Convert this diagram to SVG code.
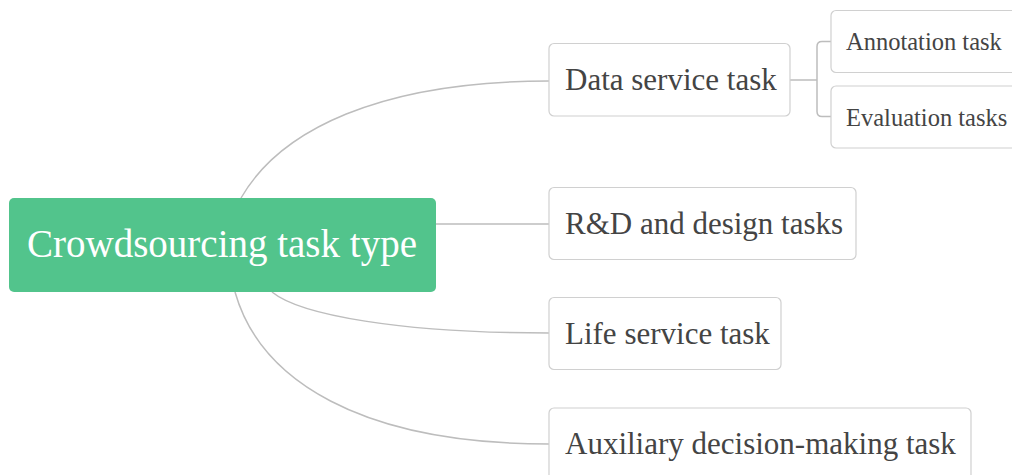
<svg xmlns="http://www.w3.org/2000/svg" width="1012" height="475" viewBox="0 0 1012 475">
  <style>
    .link { fill: none; stroke: #bdbdbd; stroke-width: 1.5; }
    .box { fill: #ffffff; stroke: #d0d0d0; stroke-width: 1.2; }
    .label { font-family: "Liberation Serif", "Times New Roman", serif; fill: #444444; }
    .l1 { font-size: 31px; }
    .l2 { font-size: 24.5px; }
    .root-box { fill: #52c48c; }
    .root-label { font-family: "Liberation Serif", "Times New Roman", serif; font-size: 39px; fill: #ffffff; }
  </style>
  <rect width="1012" height="475" fill="#ffffff"/>

  <!-- connectors -->
  <g id="connectors">
    <path class="link" d="M241,198 C280,130 380,81 549,81"/>
    <path class="link" d="M436,224 L549,224"/>
    <path class="link" d="M272,292 C300,315 400,333 549,333"/>
    <path class="link" d="M235,292 C260,380 360,444 549,444"/>
    <!-- bracket joining the data service branch to its children -->
    <path class="link" d="M790,80 L817,80 M831,41.5 L822,41.5 Q817,41.5 817,46.5 L817,111.5 Q817,116.5 822,116.5 L831,116.5"/>
  </g>

  <g id="root">
    <rect class="root-box" x="9" y="198" width="427" height="94" rx="5"/>
    <text class="root-label" x="27" y="257">Crowdsourcing task type</text>
  </g>

  <g id="data-service">
    <rect class="box" x="549" y="43.5" width="241" height="72.5" rx="5"/>
    <text class="label l1" x="565" y="90">Data service task</text>
  </g>

  <g id="annotation">
    <rect class="box" x="831" y="10.5" width="190" height="62" rx="5"/>
    <text class="label l2" x="846" y="50">Annotation task</text>
  </g>

  <g id="evaluation">
    <rect class="box" x="831" y="86" width="190" height="62" rx="5"/>
    <text class="label l2" x="846" y="126">Evaluation tasks</text>
  </g>

  <g id="rd-design">
    <rect class="box" x="549" y="187.5" width="307" height="72" rx="5"/>
    <text class="label l1" x="565" y="234">R&amp;D and design tasks</text>
  </g>

  <g id="life-service">
    <rect class="box" x="549" y="297.5" width="232" height="72" rx="5"/>
    <text class="label l1" x="565" y="344">Life service task</text>
  </g>

  <g id="auxiliary">
    <rect class="box" x="549" y="408" width="422" height="72" rx="5"/>
    <text class="label l1" x="565" y="454">Auxiliary decision-making task</text>
  </g>
</svg>
